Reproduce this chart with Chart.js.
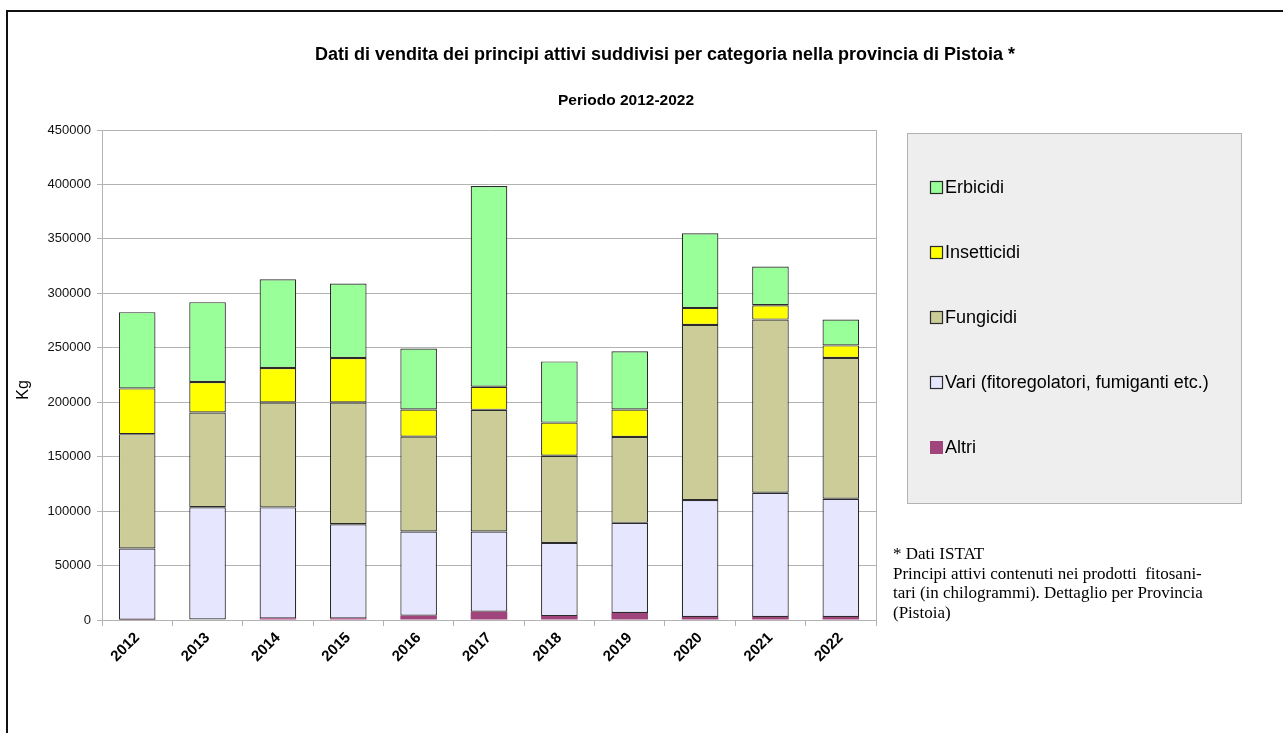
<!DOCTYPE html>
<html lang="it">
<head>
<meta charset="utf-8">
<title>Principi attivi - Pistoia</title>
<script src="https://cdn.jsdelivr.net/npm/chart.js@4/dist/chart.umd.min.js"></script>
<style>
  html, body { margin: 0; padding: 0; background: #fff; }
  #wrap { position: relative; width: 1283px; height: 733px; }
</style>
</head>
<body>
<div id="wrap"><canvas id="grafico" width="1283" height="733"></canvas></div>
<script>
// dati (kg)
const anni = ['2012', '2013', '2014', '2015', '2016', '2017', '2018', '2019', '2020', '2021', '2022'];
const altri = [200, 500, 1500, 1500, 4000, 7600, 3600, 6400, 2700, 2700, 2700];
const vari = [65500, 103000, 101900, 86500, 77300, 73700, 67200, 82800, 107400, 114200, 108600];
const fungicidi = [105000, 87100, 96300, 111700, 87100, 111700, 80100, 78900, 160900, 159000, 129300];
const insetticidi = [42000, 28000, 31700, 40900, 24900, 21200, 30400, 25200, 15600, 13100, 11600];
const erbicidi = [70000, 73300, 81600, 68400, 56100, 184400, 56200, 53400, 68500, 35700, 23700];
const tickY = [0, 50000, 100000, 150000, 200000, 250000, 300000, 350000, 400000, 450000];

const titolo = 'Dati di vendita dei principi attivi suddivisi per categoria nella provincia di Pistoia *';
const sottotitolo = 'Periodo 2012-2022';
const nota = [
  '* Dati ISTAT',
  'Principi attivi contenuti nei prodotti  fitosani-',
  'tari (in chilogrammi). Dettaglio per Provincia',
  '(Pistoia)'
];

const bordo = '#2b2b2b';
const griglia = '#b3b3b3';

function serie(label, data, colore, spessore) {
  return {
    label: label,
    data: data,
    backgroundColor: colore,
    borderColor: bordo,
    borderWidth: spessore,
    borderSkipped: false,
    barPercentage: 0.52,
    categoryPercentage: 1.0
  };
}

// cornice, titoli, legenda e nota
const decorazioni = {
  id: 'decorazioni',
  beforeDatasetsDraw(chart) {
    const { ctx, chartArea } = chart;
    ctx.save();
    ctx.strokeStyle = griglia;
    ctx.lineWidth = 1;
    ctx.beginPath();
    ctx.moveTo(Math.round(chartArea.right) + 0.5, chartArea.top);
    ctx.lineTo(Math.round(chartArea.right) + 0.5, chartArea.bottom);
    ctx.stroke();
    ctx.restore();
  },
  afterDraw(chart) {
    const { ctx } = chart;
    ctx.save();

    // cornice della pagina
    ctx.fillStyle = '#111';
    ctx.fillRect(6, 10, 2, 733);
    ctx.fillRect(6, 10, 1283, 2);

    // titoli
    ctx.fillStyle = '#000';
    ctx.textAlign = 'center';
    ctx.textBaseline = 'middle';
    ctx.font = 'bold 18px "Liberation Sans", Arial, sans-serif';
    ctx.fillText(titolo, 665, 55);
    ctx.font = 'bold 15.5px "Liberation Sans", Arial, sans-serif';
    ctx.fillText(sottotitolo, 626, 101);

    // titolo asse y
    ctx.save();
    ctx.translate(24, 390);
    ctx.rotate(-Math.PI / 2);
    ctx.font = '16px "Liberation Sans", Arial, sans-serif';
    ctx.fillText('Kg', 0, 0);
    ctx.restore();

    // legenda
    ctx.fillStyle = '#eeeeee';
    ctx.fillRect(907, 133, 334, 370);
    ctx.strokeStyle = griglia;
    ctx.lineWidth = 1;
    ctx.strokeRect(907.5, 133.5, 334, 370);

    const ds = chart.data.datasets.slice().reverse();
    ctx.textAlign = 'left';
    ctx.font = '18px "Liberation Sans", Arial, sans-serif';
    ds.forEach((d, i) => {
      const y = 187 + i * 65;
      ctx.fillStyle = d.backgroundColor;
      ctx.fillRect(930, y - 6, 13, 13);
      if (d.borderWidth > 0) {
        ctx.strokeStyle = bordo;
        ctx.lineWidth = 1.2;
        ctx.strokeRect(930.5, y - 5.5, 12, 12);
      }
      ctx.fillStyle = '#000';
      ctx.fillText(d.label, 945, y + 1);
    });

    // nota sulla fonte
    ctx.font = '17px "Liberation Serif", "Times New Roman", serif';
    ctx.textBaseline = 'alphabetic';
    nota.forEach((riga, i) => {
      ctx.fillText(riga, 893, 559 + i * 19.7);
    });

    ctx.restore();
  }
};

new Chart(document.getElementById('grafico'), {
  type: 'bar',
  data: {
    labels: anni,
    datasets: [
      serie('Altri', altri, '#a0457c', 0),
      serie('Vari (fitoregolatori, fumiganti etc.)', vari, '#e6e6ff', 1.2),
      serie('Fungicidi', fungicidi, '#cccc99', 1.2),
      serie('Insetticidi', insetticidi, '#ffff00', 1.2),
      serie('Erbicidi', erbicidi, '#99ff99', 1.2)
    ]
  },
  options: {
    responsive: false,
    animation: false,
    layout: {
      padding: { left: 10, right: 407, top: 130, bottom: 63 }
    },
    scales: {
      x: {
        stacked: true,
        afterFit: (scale) => { scale.height = 50; },
        grid: {
          offset: true,
          drawOnChartArea: false,
          drawTicks: true,
          tickLength: 6,
          color: griglia
        },
        border: { color: griglia },
        ticks: {
          autoSkip: false,
          minRotation: 45,
          maxRotation: 45,
          color: '#000',
          font: { family: '"Liberation Sans", Arial, sans-serif', size: 15, weight: 'bold' }
        }
      },
      y: {
        stacked: true,
        min: 0,
        max: 450000,
        afterFit: (scale) => { scale.width = 92; },
        afterBuildTicks: (scale) => { scale.ticks = tickY.map(v => ({ value: v })); },
        grid: { color: griglia, tickLength: 5 },
        border: { color: griglia },
        ticks: {
          padding: 6,
          color: '#111',
          font: { family: '"Liberation Sans", Arial, sans-serif', size: 13 },
          callback: (v) => String(v)
        }
      }
    },
    plugins: {
      legend: { display: false },
      title: { display: false },
      tooltip: { enabled: false }
    }
  },
  plugins: [decorazioni]
});
</script>
</body>
</html>
